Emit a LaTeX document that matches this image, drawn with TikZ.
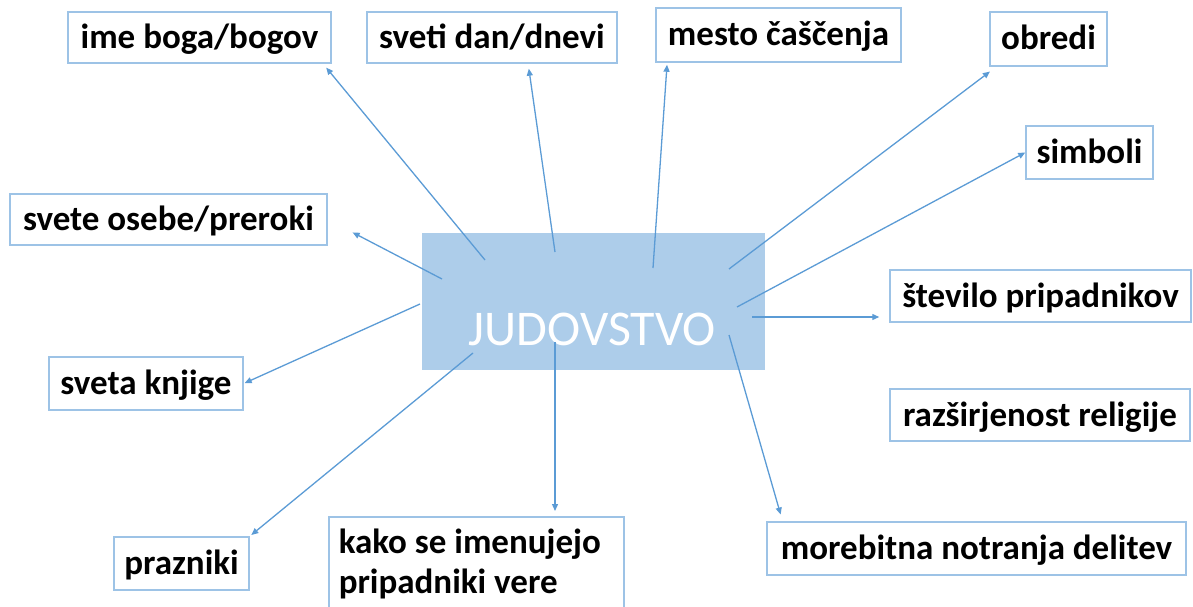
\documentclass[tikz,border=0pt]{standalone}
\usepackage{fontspec}
\setmainfont{Carlito}
\usepackage{tikz}
\usetikzlibrary{arrows.meta}
\usepackage{xcolor}
\definecolor{accent}{HTML}{5B9BD5}
\definecolor{boxline}{HTML}{9DC3E6}
\definecolor{hubfill}{HTML}{ADCDEA}

\begin{document}
\begin{tikzpicture}[x=1pt, y=-1pt,
	frame/.style={draw=boxline, line width=1.5pt, inner sep=0pt,
		font=\fontsize{35}{40}\selectfont\bfseries},
	box/.style={frame, minimum height=51pt, text height=25pt, text depth=3pt},
	hub/.style={fill=hubfill, minimum width=343pt, minimum height=137pt, inner sep=0pt},
	link/.style={accent, line width=1.3pt, -{Triangle[length=7pt,width=6pt]}}]
	\useasboundingbox (0,0) rectangle (1193,607);
	%Central box
	\node[hub] (jud) at (593.5,301.5) {};
	\node[text=white, inner sep=0pt, font=\fontsize{50}{50}\selectfont] (judtext) at (592.5,329.5) {JUDOVSTVO};
	%Top row
	\node[box, minimum width=263pt] (ime) at (199.5,37.5) {ime boga/bogov};
	\node[box, minimum width=250pt] (dan) at (492,37.5) {sveti dan/dnevi};
	\node[box, minimum width=245pt, minimum height=54pt] (mesto) at (778.5,35) {mesto čaščenja};
	\node[box, minimum width=117pt, minimum height=54pt] (obredi) at (1048.5,39) {obredi};
	%Right side
	\node[box, minimum width=127pt, minimum height=53pt] (simboli) at (1089.5,152.5) {simboli};
	\node[box, minimum width=301pt, minimum height=52pt] (stevilo) at (1040.5,296) {število pripadnikov};
	\node[box, minimum width=300pt, minimum height=52pt] (razsir) at (1040,415) {razširjenost religije};
	\node[box, minimum width=419pt, minimum height=53pt] (delitev) at (976.5,548.5) {morebitna notranja delitev};
	%Left side
	\node[box, minimum width=317pt] (osebe) at (168.5,219.5) {svete osebe/preroki};
	\node[box, minimum width=194pt, minimum height=53pt] (knjige) at (146,383.5) {sveta knjige};
	\node[box, minimum width=135pt, minimum height=53pt] (prazniki) at (181.5,563.5) {prazniki};
	%Bottom (runs off the page)
	\node[frame, anchor=north west, text width=275pt, align=flush left, inner xsep=10pt, inner ysep=12pt]
		(kako) at (328,516) {kako se imenujejo\\pripadniki vere};
	% Arrow starts inside the central box
	\coordinate (s-ime) at (485,260);
	\coordinate (s-dan) at (555,252);
	\coordinate (s-mesto) at (653,268);
	\coordinate (s-obredi) at (729,269);
	\coordinate (s-simboli) at (737,307);
	\coordinate (s-stevilo) at (752,317);
	\coordinate (s-delitev) at (729,335);
	\coordinate (s-kako) at (555,342);
	\coordinate (s-prazniki) at (473,353);
	\coordinate (s-knjige) at (420,304);
	\coordinate (s-osebe) at (442,279);
	% Arrows
	\draw[link, shorten >=5pt] (s-ime) -- (ime.-12);
	\draw[link, shorten >=5pt] (s-dan) -- (dan.-36);
	\draw[link, shorten >=2pt] (s-mesto) -- (mesto.-166);
	\draw[link, shorten >=8pt] (s-obredi) -- (obredi.-152.5);
	\draw[link] (s-simboli) -- (simboli.west);
	\draw[link, shorten >=10pt] (s-stevilo) -- (s-stevilo -| stevilo.west);
	\draw[link, shorten >=7pt] (s-delitev) -- (delitev.172);
	\draw[link, shorten >=5pt] (s-kako) -- (s-kako |- kako.north);
	\draw[link, shorten >=2pt] (s-prazniki) -- (prazniki.north east);
	\draw[link, shorten >=1pt] (s-knjige) -- (knjige.east);
	\draw[link, shorten >=28pt] (s-osebe) -- (osebe.east);
\end{tikzpicture}
\end{document}
